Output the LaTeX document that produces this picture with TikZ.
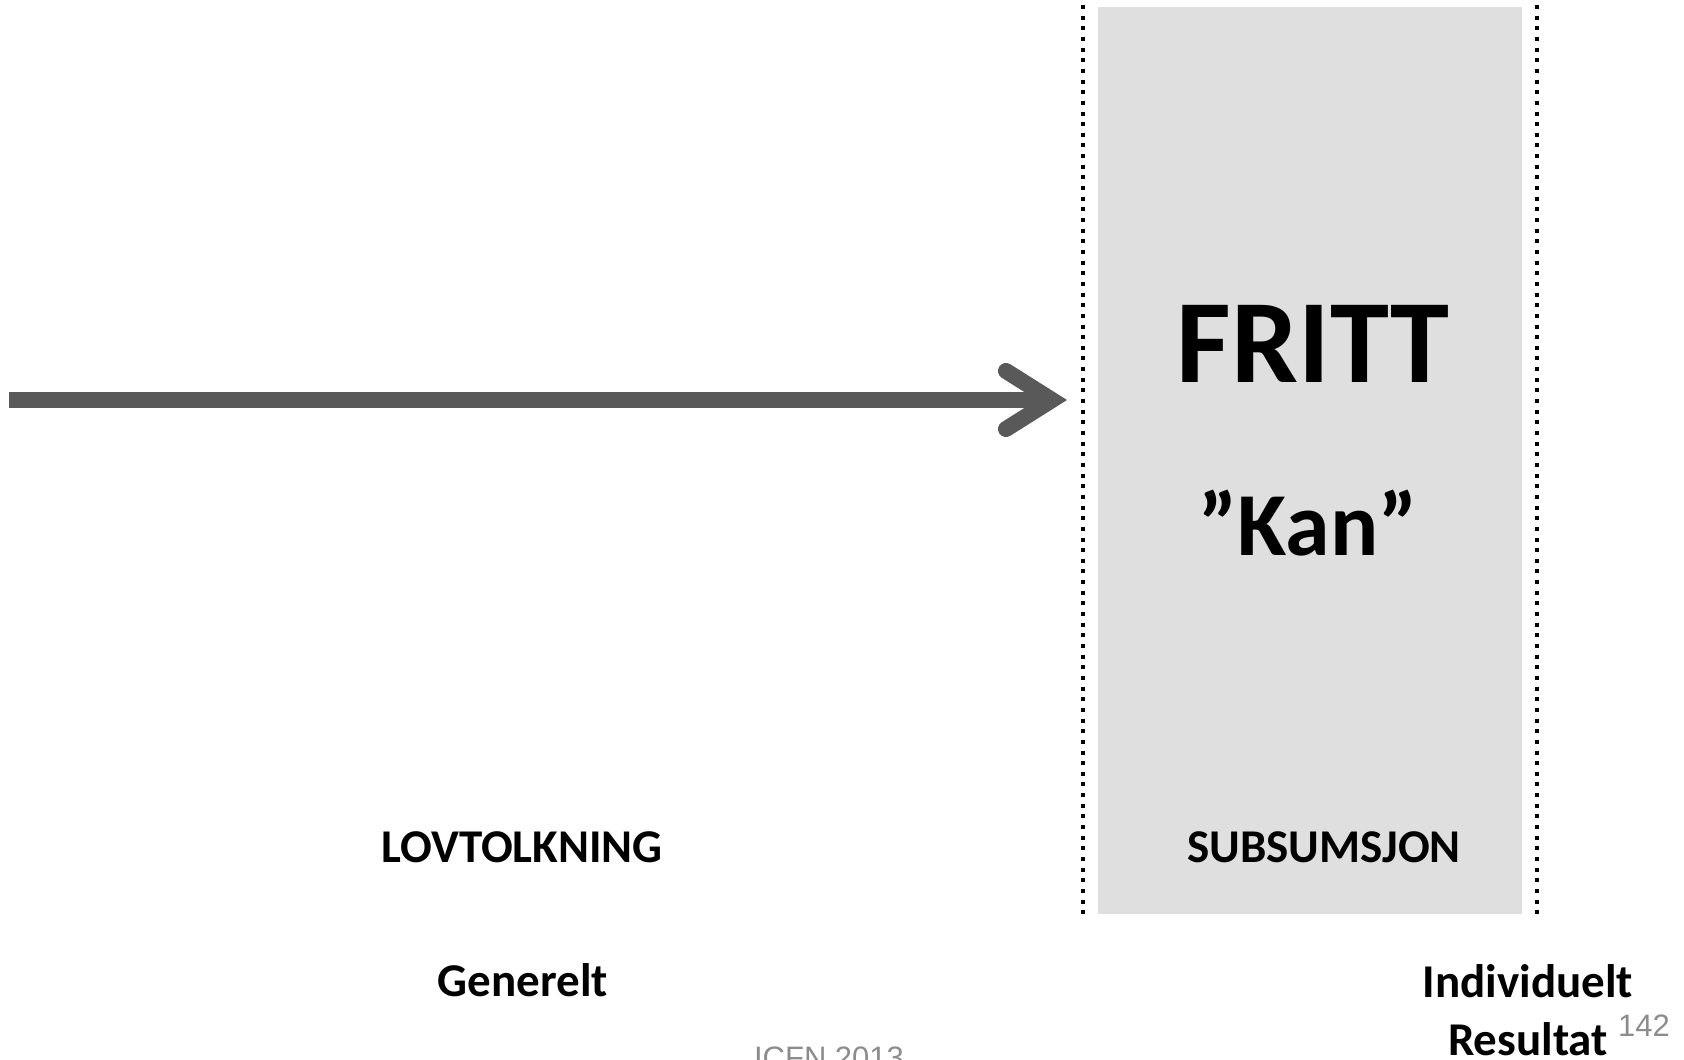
\documentclass[tikz,border=0pt]{standalone}
\usepackage{fontspec}
\setmainfont{Carlito}
\newfontfamily\arialfont{Liberation Sans}
\usetikzlibrary{positioning, arrows.meta}

\definecolor{panelgray}{HTML}{DFDFDF}
\definecolor{arrowgray}{HTML}{595959}
\definecolor{footgray}{HTML}{8C8C8C}

\begin{document}
\begin{tikzpicture}[
        x=1pt, y=-1pt,
        panel/.style={rectangle, fill=panelgray, inner sep=0pt, minimum width=424pt, minimum height=907pt},
        sepline/.style={draw=black, line width=4pt, dash pattern=on 4pt off 6.65pt},
        flow/.style={draw=arrowgray, line width=16pt, -{Straight Barb[length=46pt, width=58pt, line cap=round, line join=miter]}},
        bigword/.style={anchor=base, font=\bfseries\fontsize{119}{140}\selectfont},
        midword/.style={anchor=base, font=\bfseries\fontsize{90}{108}\selectfont},
        label/.style={anchor=base, align=center, inner sep=1pt, font=\bfseries\fontsize{47}{58}\selectfont},
        foot/.style={anchor=base, text=footgray, font=\arialfont\fontsize{31}{37}\selectfont}
    ]
    \useasboundingbox (0,0) rectangle (1684,1060);

    % Panel and separators
    \node (panel) [panel] at (1310,460.5) {};
    \draw [sepline] (1083,5) -- (1083,915);
    \draw [sepline] (1537,5) -- (1537,915);

    % Arrow
    \coordinate (start) at (9,400);
    \coordinate (tip) at (1067,400);
    \draw [flow] (start) -- (tip);

    % Texts
    \node (fritt) [bigword] at (1313,382) {FRITT};
    \node (kan) [midword] at (1308,555) {”Kan”};
    \node (lovtolkning) [label] at (522,862) {LOVTOLKNING};
    \node (subsumsjon) [label] at (1324,862) {SUBSUMSJON};
    \node (generelt) [label] at (523,996) {Generelt};
    \node (individuelt) [label] at (1528,1055) {Individuelt\\Resultat};
    \node (pagenum) [foot] at (1644,1036) {142};
    \node (footer) [foot] at (829,1068) {ICFN 2013};
\end{tikzpicture}
\end{document}
